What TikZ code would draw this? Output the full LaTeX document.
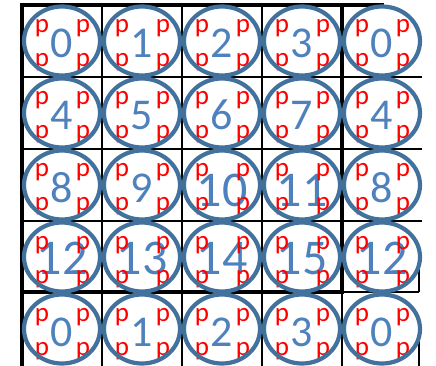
\documentclass[tikz,border=0pt]{standalone}
\usepackage{fontspec}
\setmainfont{Carlito}
\usepackage{xcolor}
\usetikzlibrary{shapes.geometric}
\definecolor{ringblue}{HTML}{41719C}
\definecolor{numblue}{HTML}{4F81BD}

\begin{document}
\begin{tikzpicture}[x=1pt,y=-1pt]
\tikzstyle{ring}=[ellipse,draw=ringblue,line width=4.2pt,minimum width=76pt,minimum height=69pt,inner sep=0pt]
\tikzstyle{pmark}=[text=red,font=\fontsize{27}{27}\selectfont,inner sep=0pt,anchor=base]
\tikzstyle{numtext}=[text=numblue,inner sep=0pt,anchor=base]
\tikzstyle{thin}=[line width=1.8pt]
\tikzstyle{thick}=[line width=4pt,line cap=rect]
\useasboundingbox (0,0) rectangle (436,366);
% grid
\draw[thin] (102,5) -- (102,366) (182,5) -- (182,366) (262,5) -- (262,366) (342,292) -- (342,366);
\draw[thin] (22,77) -- (422,77) (22,149) -- (422,149) (22,221) -- (422,221) (342,292) -- (419,292);
\draw[thin] (419,257) -- (419,292) (419,325) -- (419,366);
\draw[thick] (22,366) -- (22,5) -- (382,5) (342,5) -- (342,292) (22,292) -- (342,292);
% cells
\foreach \n [count=\i from 0] in {0,1,2,3,0,4,5,6,7,4,8,9,10,11,8,12,13,14,15,12,0,1,2,3,0}{
  \pgfmathtruncatemacro\c{mod(\i,5)}
  \pgfmathtruncatemacro\r{(\i-\c)/5}
  \pgfmathsetmacro\cx{62+80*\c}
  \pgfmathsetmacro\cy{41+72*\r}
  \pgfmathsetmacro\off{\n>9 ? (\r==2 ? 21 : 17) : 17}
  \pgfmathsetmacro\fs{\n>9 ? 50 : 44}
  \node[numtext,font=\fontsize{\fs}{\fs}\selectfont] (N\r\c) at (\cx,\cy+\off) {\n};
  \node[pmark] (P\r\c-a) at (\cx-20,\cy-8) {p};
  \node[pmark] (P\r\c-b) at (\cx+21,\cy-8) {p};
  \node[pmark] (P\r\c-c) at (\cx-20,\cy+26) {p};
  \node[pmark] (P\r\c-d) at (\cx+21,\cy+26) {p};
  \node[ring] (E\r\c) at (\cx,\cy) {};
}
\end{tikzpicture}
\end{document}
